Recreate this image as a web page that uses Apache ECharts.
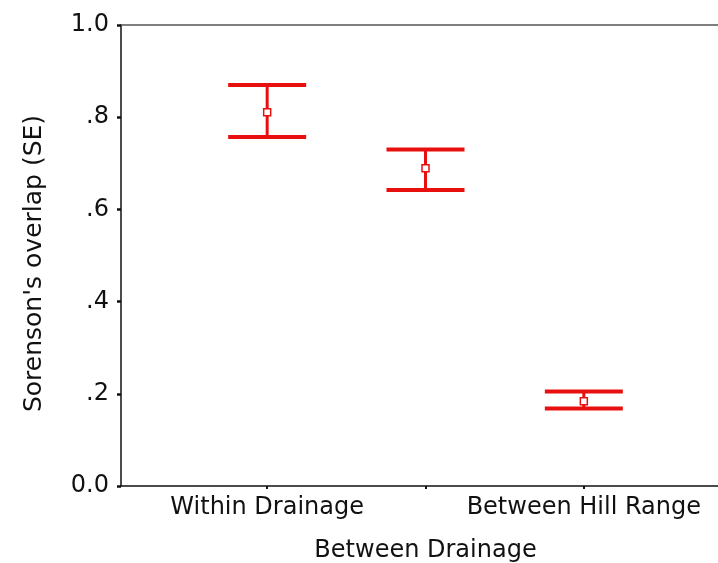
<!DOCTYPE html>
<html>
<head>
<meta charset="utf-8">
<style>
  html, body { margin: 0; padding: 0; background: #fff; }
  #chart { width: 718px; height: 563px; }
</style>
<script src="https://cdn.jsdelivr.net/npm/echarts@6/dist/echarts.min.js"></script>
</head>
<body>
<div id="chart"></div>
<script>
// Group names along the x axis
const categories = ['Within Drainage', 'Between Drainage', 'Between Hill Range'];
// Mean Sorenson's overlap and the mean ± 1 SE bounds per group
const means = [0.811, 0.689, 0.184];
const lowerSE = [0.757, 0.642, 0.168];
const upperSE = [0.870, 0.730, 0.205];
// Y tick labels as printed
const yTickLabels = ['0.0', '.2', '.4', '.6', '.8', '1.0'];

const RED = '#e8100f';
const FONT = 'DejaVu Sans';
const INK = '#111';

const errorData = categories.map((c, i) => [c, lowerSE[i], upperSE[i], means[i]]);

const chart = echarts.init(document.getElementById('chart'), null, { renderer: 'canvas' });

chart.setOption({
  animation: false,
  backgroundColor: '#ffffff',
  grid: [
    // frame: axis lines spanning the whole plot area
    { left: 121, right: 0, top: 25, bottom: 77, containLabel: false, outerBoundsMode: 'none' },
    // inner band holding the three groups
    { left: 188, right: 55, top: 25, bottom: 77, containLabel: false, outerBoundsMode: 'none' }
  ],
  xAxis: [
    {
      gridIndex: 0, type: 'value', min: 0, max: 1,
      splitLine: { show: false },
      axisLine: { show: true, lineStyle: { color: INK, width: 1.5 } },
      axisTick: { show: false }, axisLabel: { show: false }
    },
    {
      gridIndex: 0, type: 'value', position: 'top', min: 0, max: 1,
      splitLine: { show: false },
      axisLine: { show: true, lineStyle: { color: '#555', width: 1.5 } },
      axisTick: { show: false }, axisLabel: { show: false }
    },
    {
      gridIndex: 1, type: 'category', data: categories, boundaryGap: true,
      axisLine: { show: false },
      axisTick: { show: true, alignWithLabel: true, length: 3, lineStyle: { color: INK, width: 2 } },
      axisLabel: {
        interval: 0,
        margin: 0,
        fontFamily: FONT,
        fontSize: 24,
        color: INK,
        lineHeight: 43,
        formatter: (v, i) => (i === 1 ? '\n' + v : v)
      }
    }
  ],
  yAxis: [
    {
      gridIndex: 0, type: 'value', min: 0, max: 1, interval: 0.2,
      name: "Sorenson's overlap (SE)",
      nameLocation: 'middle',
      nameGap: 74,
      nameTextStyle: { fontFamily: FONT, fontSize: 25, color: INK, padding: [0, 16, 0, 0] },
      splitLine: { show: false },
      axisLine: { show: true, lineStyle: { color: INK, width: 1.5 } },
      axisTick: { show: true, length: 4, lineStyle: { color: INK, width: 2.5 } },
      axisLabel: {
        margin: 12,
        fontFamily: FONT,
        fontSize: 24,
        color: INK,
        formatter: (v) => yTickLabels[Math.round(v / 0.2)]
      }
    },
    {
      gridIndex: 1, type: 'value', min: 0, max: 1, interval: 0.2, show: false
    }
  ],
  series: [
    {
      type: 'custom',
      xAxisIndex: 2,
      yAxisIndex: 1,
      data: errorData,
      encode: { x: 0, y: [1, 2, 3] },
      renderItem: (params, api) => {
        const x = api.value(0);
        const lo = api.coord([x, api.value(1)]);
        const hi = api.coord([x, api.value(2)]);
        const mid = api.coord([x, api.value(3)]);
        const half = 39;
        const m = 3.5;
        return {
          type: 'group',
          children: [
            { type: 'line', shape: { x1: hi[0], y1: hi[1], x2: lo[0], y2: lo[1] },
              style: { stroke: RED, lineWidth: 3 } },
            { type: 'line', shape: { x1: hi[0] - half, y1: hi[1], x2: hi[0] + half, y2: hi[1] },
              style: { stroke: RED, lineWidth: 4 } },
            { type: 'line', shape: { x1: lo[0] - half, y1: lo[1], x2: lo[0] + half, y2: lo[1] },
              style: { stroke: RED, lineWidth: 4 } },
            { type: 'rect', shape: { x: mid[0] - m, y: mid[1] - m, width: 2 * m, height: 2 * m },
              style: { fill: '#fff', stroke: RED, lineWidth: 1.5 } }
          ]
        };
      }
    }
  ]
});
</script>
</body>
</html>
